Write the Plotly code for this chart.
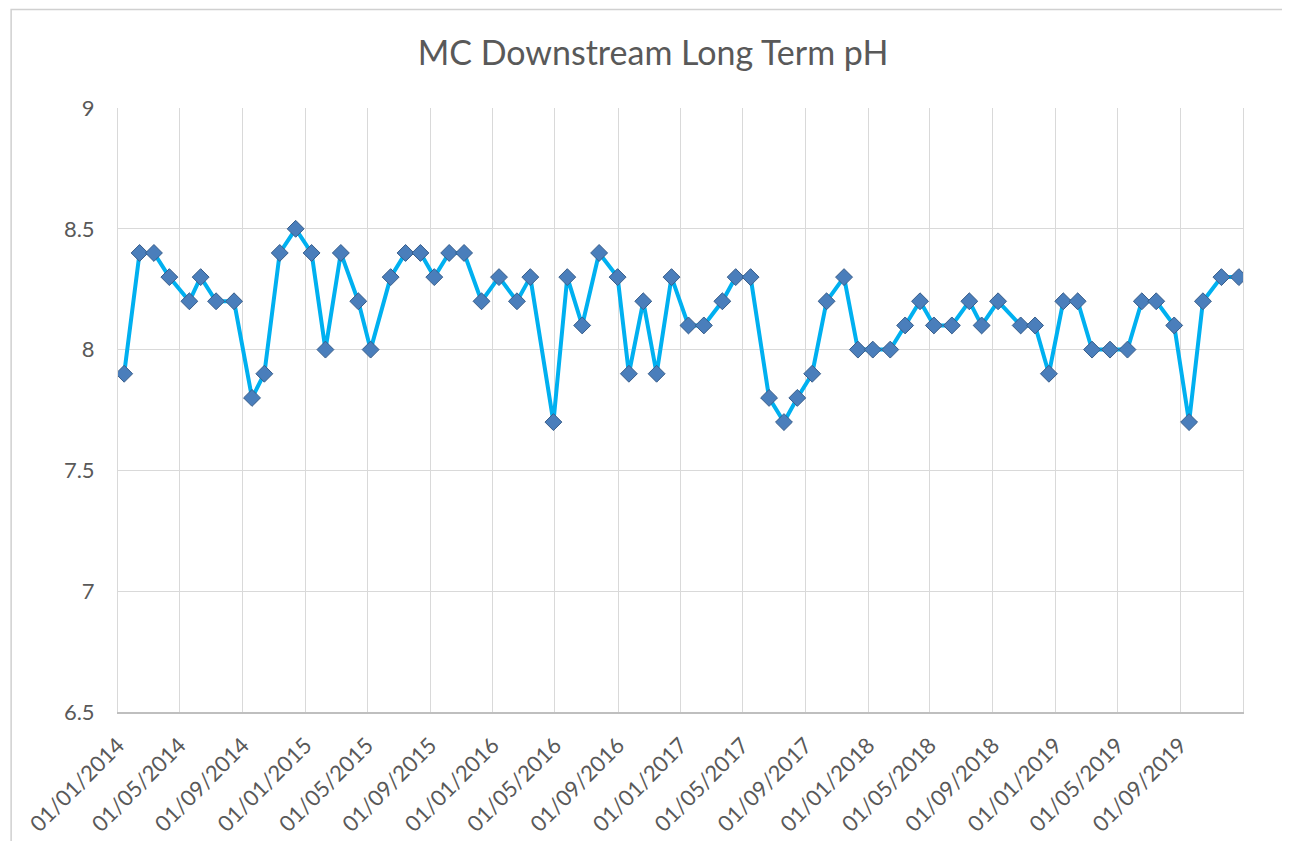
"""MC Downstream long term pH - Excel style line chart."""

import plotly.graph_objects as go

dates = [
    "2014-01-13", "2014-02-12", "2014-03-12", "2014-04-11", "2014-05-20", "2014-06-11",
    "2014-07-11", "2014-08-15", "2014-09-19", "2014-10-13", "2014-11-12", "2014-12-13",
    "2015-01-13", "2015-02-09", "2015-03-11", "2015-04-14", "2015-05-08", "2015-06-16",
    "2015-07-15", "2015-08-13", "2015-09-09", "2015-10-08", "2015-11-06", "2015-12-10",
    "2016-01-13", "2016-02-17", "2016-03-14", "2016-04-28", "2016-05-25", "2016-06-23",
    "2016-07-26", "2016-08-31", "2016-09-22", "2016-10-20", "2016-11-15", "2016-12-14",
    "2017-01-16", "2017-02-15", "2017-03-23", "2017-04-18", "2017-05-17", "2017-06-22",
    "2017-07-21", "2017-08-16", "2017-09-14", "2017-10-12", "2017-11-15", "2017-12-12",
    "2018-01-10", "2018-02-13", "2018-03-14", "2018-04-12", "2018-05-09", "2018-06-13",
    "2018-07-17", "2018-08-10", "2018-09-11", "2018-10-25", "2018-11-22", "2018-12-19",
    "2019-01-16", "2019-02-13", "2019-03-13", "2019-04-17", "2019-05-21", "2019-06-18",
    "2019-07-16", "2019-08-20", "2019-09-18", "2019-10-15", "2019-11-20", "2019-12-24",
]

ph = [
    7.9, 8.4, 8.4, 8.3, 8.2, 8.3, 8.2, 8.2, 7.8, 7.9, 8.4, 8.5,
    8.4, 8.0, 8.4, 8.2, 8.0, 8.3, 8.4, 8.4, 8.3, 8.4, 8.4, 8.2,
    8.3, 8.2, 8.3, 7.7, 8.3, 8.1, 8.4, 8.3, 7.9, 8.2, 7.9, 8.3,
    8.1, 8.1, 8.2, 8.3, 8.3, 7.8, 7.7, 7.8, 7.9, 8.2, 8.3, 8.0,
    8.0, 8.0, 8.1, 8.2, 8.1, 8.1, 8.2, 8.1, 8.2, 8.1, 8.1, 7.9,
    8.2, 8.2, 8.0, 8.0, 8.0, 8.2, 8.2, 8.1, 7.7, 8.2, 8.3, 8.3,
]

tick_dates = [
    "2014-01-01", "2014-05-01", "2014-09-01", "2015-01-01", "2015-05-01", "2015-09-01",
    "2016-01-01", "2016-05-01", "2016-09-01", "2017-01-01", "2017-05-01", "2017-09-01",
    "2018-01-01", "2018-05-01", "2018-09-01", "2019-01-01", "2019-05-01", "2019-09-01",
    "2020-01-01",
]
tick_text = [
    "01/01/2014", "01/05/2014", "01/09/2014", "01/01/2015", "01/05/2015", "01/09/2015",
    "01/01/2016", "01/05/2016", "01/09/2016", "01/01/2017", "01/05/2017", "01/09/2017",
    "01/01/2018", "01/05/2018", "01/09/2018", "01/01/2019", "01/05/2019", "01/09/2019",
    "",
]

y_ticks = [6.5, 7, 7.5, 8, 8.5, 9]

GRID = "#d9d9d9"
TXT = "#595959"
FONT = "Lato, 'Open Sans', sans-serif"

fig = go.Figure()
fig.add_trace(
    go.Scatter(
        x=dates,
        y=ph,
        mode="lines+markers",
        line=dict(color="#00b0f0", width=4),
        marker=dict(
            symbol="diamond",
            size=13,
            color="#4a7ebb",
            line=dict(color="#385d8a", width=1),
        ),
        showlegend=False,
    )
)

# page body has an 8px margin, so margins are trimmed to land the plot area
fig.update_layout(
    width=1290,
    height=841,
    margin=dict(l=110, r=55, t=100, b=129),
    paper_bgcolor="white",
    plot_bgcolor="white",
    font=dict(family=FONT, color=TXT),
    title=dict(
        text="MC Downstream Long Term pH",
        x=0.5,
        xanchor="center",
        y=0.946,
        yanchor="middle",
        font=dict(size=34, color=TXT, family=FONT),
    ),
    xaxis=dict(
        type="date",
        range=["2014-01-01", "2020-01-01"],
        tickmode="array",
        tickvals=tick_dates,
        ticktext=tick_text,
        tickangle=-45,
        tickfont=dict(size=22, color=TXT),
        showgrid=True,
        gridcolor=GRID,
        gridwidth=1,
        showline=True,
        linecolor="#bfbfbf",
        linewidth=1.5,
        ticks="",
        ticklabelstandoff=10,
        zeroline=False,
    ),
    yaxis=dict(
        range=[6.5, 9],
        tickmode="array",
        tickvals=y_ticks,
        tickfont=dict(size=22, color=TXT),
        showgrid=True,
        gridcolor=GRID,
        gridwidth=1,
        showline=True,
        mirror=True,
        linecolor=GRID,
        linewidth=1,
        ticks="",
        ticklabelstandoff=18,
        zeroline=False,
    ),
    shapes=[
        dict(
            type="rect",
            xref="paper",
            yref="paper",
            x0=-0.095,
            x1=1.2,
            y0=-0.4,
            y1=1.163,
            line=dict(color="#d0d0d0", width=1.5),
            fillcolor="rgba(0,0,0,0)",
            layer="below",
        )
    ],
)

fig.write_html("out.html")
